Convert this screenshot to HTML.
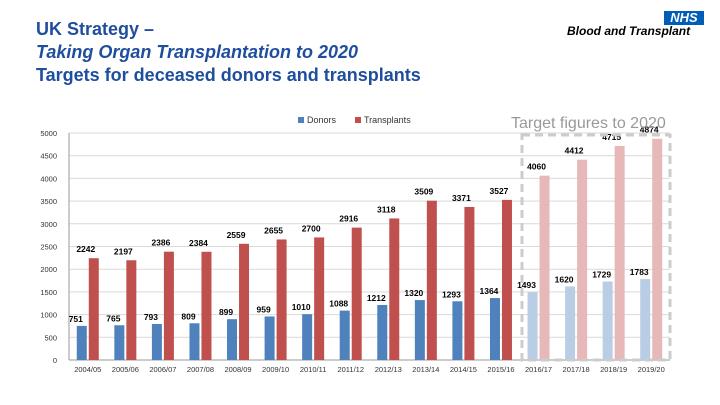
<!DOCTYPE html>
<html><head><meta charset="utf-8"><style>
body{margin:0;width:720px;height:405px;background:#fff;font-family:"Liberation Sans",sans-serif;overflow:hidden;position:relative}
.t{position:absolute;left:36px;color:#1f4e9e;font-weight:bold;font-size:18px;line-height:23px}
</style></head><body>
<div class="t" style="top:18px">UK Strategy –<br><i>Taking Organ Transplantation to 2020</i><br>Targets for deceased donors and transplants</div>
<div style="position:absolute;left:664px;top:11px;width:40px;height:14px;background:#005eb8;color:#fff;font-weight:bold;font-style:italic;font-size:13px;line-height:14px;text-align:center">NHS</div>
<div style="position:absolute;left:567px;top:24px;color:#000;font-weight:bold;font-style:italic;font-size:12px">Blood and Transplant</div>
<svg width="720" height="405" style="position:absolute;left:0;top:0">
<g id="g"></g>
<text x="511" y="128" font-size="16" fill="#999">Target figures to 2020</text>
<rect x="522" y="135" width="148" height="225" fill="none" stroke="#ccc" stroke-width="3" stroke-dasharray="8,5"/>
<rect x="298" y="117" width="6" height="6" fill="#4f81bd"/>
<text x="307" y="123" font-size="9" fill="#333">Donors</text>
<rect x="355" y="117" width="6" height="6" fill="#c0504d"/>
<text x="364" y="123" font-size="9" fill="#333">Transplants</text>
</svg>
<script>
const categories=["2004/05","2005/06","2006/07","2007/08","2008/09","2009/10","2010/11","2011/12","2012/13","2013/14","2014/15","2015/16","2016/17","2017/18","2018/19","2019/20"];
const donors=[751,765,793,809,899,959,1010,1088,1212,1320,1293,1364,1493,1620,1729,1783];
const transplants=[2242,2197,2386,2384,2559,2655,2700,2916,3118,3509,3371,3527,4060,4412,4715,4874];
const yTicks=[0,500,1000,1500,2000,2500,3000,3500,4000,4500,5000];
const targetStart=12;
const X0=69,X1=670,Y0=360,Y1=133,YMAX=5000;
const y=v=>Y0-(Y0-Y1)*v/YMAX;
const bw=(X1-X0)/categories.length;
const cx=i=>X0+bw*(i+0.5);
const g=document.getElementById('g');const NS='http://www.w3.org/2000/svg';
function mk(t,a,txt){const e=document.createElementNS(NS,t);for(const k in a)e.setAttribute(k,a[k]);if(txt!=null)e.textContent=txt;g.appendChild(e);return e;}
yTicks.forEach(v=>{
 const l=mk('line',{x1:X0,x2:X1,y1:y(v),y2:y(v),stroke:v?'#d9d9d9':'#999','stroke-width':1});
 
 
 const t=mk('text',{x:57,y:y(v)+3,'font-size':7.5,'text-anchor':'end',fill:'#333'},v);
 
 
});
mk('line',{x1:X0,x2:X0,y1:Y1,y2:Y0,stroke:'#999'});
categories.forEach((c,i)=>{
 const tg=i>=targetStart;
 const b=mk('rect',{x:cx(i)-11,y:y(donors[i]),width:10,height:Y0-y(donors[i]),fill:tg?'#b9cde5':'#4f81bd'});
 
 
 const r=mk('rect',{x:cx(i)+1,y:y(transplants[i]),width:10,height:Y0-y(transplants[i]),fill:tg?'#e6b9b8':'#c0504d'});
 
 
 const dl=mk('text',{x:cx(i)-12,y:y(donors[i])-4,'font-size':8.5,'font-weight':'bold','text-anchor':'middle',fill:'#000'},donors[i]);
 
 
 const tl=mk('text',{x:cx(i)-2,y:y(transplants[i])-6,'font-size':8.5,'font-weight':'bold','text-anchor':'middle',fill:'#000'},transplants[i]);
 
 
 const xl=mk('text',{x:cx(i),y:372,'font-size':7.5,'text-anchor':'middle',fill:'#333'},c);
 
 
});
</script>
</body></html>
